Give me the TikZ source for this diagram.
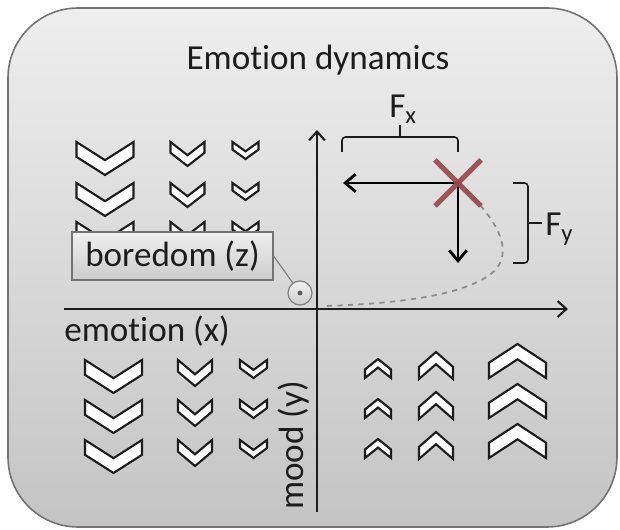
\documentclass[tikz,border=0pt]{standalone}
\usepackage{fontspec}
\setmainfont{Carlito}[RawFeature={-liga;-clig;-dlig;-rlig;-calt}]
\usetikzlibrary{arrows.meta, calc}
\definecolor{panel-top}{RGB}{238,238,238}
\definecolor{panel-bot}{RGB}{196,196,196}
\definecolor{cross-red}{RGB}{152,70,72}
\definecolor{ink}{RGB}{28,28,28}

\tikzset{
  chev/.style={draw=ink, fill=white, line width=1.2pt, line join=miter},
  chevdown/.pic={\draw[chev] (-1,0) -- (0,0.55) -- (1,0) -- (1,0.45)
                 -- (0,1) -- (-1,0.45) -- cycle;},
  chevup/.pic={\draw[chev] (-1,1) -- (0,0.45) -- (1,1) -- (1,0.55)
               -- (0,0) -- (-1,0.55) -- cycle;}
}

\begin{document}
\begin{tikzpicture}[x=0.02cm, y=-0.02cm,
    lbl/.style={font=\fontsize{20}{24}\selectfont, text=ink, inner sep=0pt},
    axis/.style={-{Straight Barb[length=5pt, width=9pt]}, line width=1.2pt, color=ink},
    force/.style={-{Straight Barb[length=6pt, width=10pt]}, line width=1.6pt, color=black},
    brace/.style={line width=0.9pt, color=ink, rounded corners=2pt},
    crossline/.style={line width=3pt, color=cross-red, opacity=0.9}
  ]
  \useasboundingbox (0,0) rectangle (620,530);
  % panel
  \draw[draw=black!55, line width=0.9pt, rounded corners=1.4cm,
        top color=panel-top, bottom color=panel-bot] (8,8) rectangle (617,527);
  \node[lbl, anchor=base] (title) at (318,70) {Emot\kern0pt ion dynamics};

  % chevrons, upper left
  \foreach \t in {142,183,222} {
    \pic[xscale=28.5, yscale=33] at (105,\t) {chevdown};
    \pic[xscale=17, yscale=24] at (187.5,\t) {chevdown};
    \pic[xscale=13, yscale=17] at (245.5,\t) {chevdown};
  }
  % chevrons, lower left
  \foreach \t in {360,400,440} {
    \pic[xscale=28.5, yscale=33] at (113.5,\t) {chevdown};
    \pic[xscale=17, yscale=26] at (195,\t) {chevdown};
    \pic[xscale=13.5, yscale=18] at (253.5,\t) {chevdown};
  }
  % chevrons, lower right
  \foreach \t in {0,40,80} {
    \pic[xscale=13, yscale=19] at (378,359+\t) {chevup};
    \pic[xscale=17, yscale=27] at (436,352+\t) {chevup};
    \pic[xscale=28.5, yscale=34] at (517.5,344+\t) {chevup};
  }

  % axes
  \coordinate (xstart) at (64,309);
  \coordinate (xend) at (568,309);
  \coordinate (ystart) at (317,512);
  \coordinate (yend) at (317,130);
  \draw[axis] (xstart) -- (xend);
  \draw[axis] (ystart) -- (yend);
  \node[lbl, anchor=base west] (xlabel) at (64,342) {emot\kern0pt ion (x)};
  \node[lbl, anchor=base west, rotate=90] (ylabel) at (303,510) {mood (y)};

  % boredom
  \node[draw=black!55, line width=0.7pt, top color=white!94!black,
        bottom color=white!80!black, minimum width=4.02cm,
        minimum height=0.96cm, lbl] (boredom) at (172.5,256) {boredom (z)};
  \node[circle, draw=black!50, line width=0.7pt, minimum size=0.48cm,
        top color=white!95!black, bottom color=white!80!black] (zdot) at (300,293) {};
  \fill[black!65] (zdot.center) circle (1.4pt);
  \draw[black!50, line width=0.7pt] (boredom.east) -- (zdot);

  % trajectory and forces
  \coordinate (state) at (458,183);
  \coordinate (fxend) at (343,183);
  \coordinate (fyend) at (458,263);
  \draw[black!45, line width=1pt, dashed] (state)
    .. controls (505,225) and (515,258) .. (488,276)
    .. controls (455,298) and (385,304) .. (325,306);
  \draw[force] (state) -- (fxend);
  \draw[force] (state) -- (fyend);
  \draw[crossline] ($(state)+(-23,-23)$) -- ($(state)+(23,23)$);
  \draw[crossline] ($(state)+(23,-23)$) -- ($(state)+(-23,23)$);

  % brackets
  \draw[brace] (342,152) -- (342,137) -- (458,137) -- (458,152);
  \draw[brace] (400,137) -- (400,125);
  \node[lbl, anchor=base west] (fxlabel) at (389,118) {F\textsubscript{x}};
  \draw[brace] (513,183) -- (528,183) -- (528,263) -- (513,263);
  \draw[brace] (528,223) -- (542,223);
  \node[lbl, anchor=base west] (fylabel) at (545,236) {F\textsubscript{y}};
\end{tikzpicture}
\end{document}
